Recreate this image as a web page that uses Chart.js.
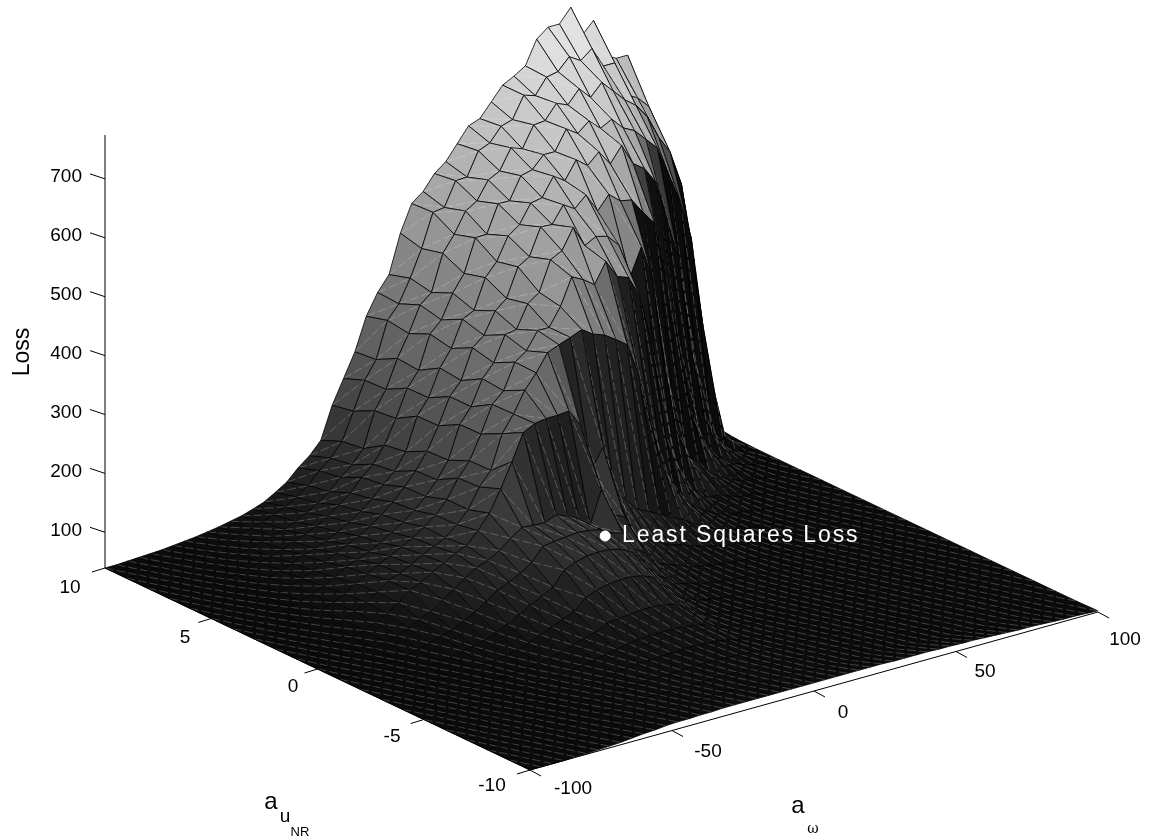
<!DOCTYPE html>
<html><head><meta charset="utf-8">
<style>html,body{margin:0;padding:0;background:#fff}#box{width:1158px;height:840px;position:relative}</style>
<script src="https://cdn.jsdelivr.net/npm/chart.js@4"></script></head>
<body><div id="box"><canvas id="c" width="1158" height="840"></canvas></div>
<script>
const aOmega=[-100,-96,-92,-88,-84,-80,-76,-72,-68,-64,-60,-56,-52,-48,-44,-40,-36,-32,-28,-24,-20,-16,-12,-8,-4,0,4,8,12,16,20,24,28,32,36,40,44,48,52,56,60,64,68,72,76,80,84,88,92,96,100];
const aU=[10,9,8,7,6,5,4,3,2,1,0,-1,-2,-3,-4,-5,-6,-7,-8,-9,-10];
const zTicks=[100,200,300,400,500,600,700];
const uTicks=[10,5,0,-5,-10];
const wTicks=[-100,-50,0,50,100];
const leastSquares={w:[20],u:[2.5],loss:[58]};
// one line per a_omega value, entries run along aU
const loss=[
[36,36,36,36,36,36,36,36,36,36,36,36,36,36,36,36,36,36,36,36,36],
[36,36,36,36,36,36,36,36,36,36,36,36,36,36,36,36,36,36,36,36,36],
[37,37,37,37,37,37,37,37,37,37,37,37,37,36,36,36,36,36,36,36,36],
[38,38,38,38,38,39,39,39,39,39,38,38,38,37,37,37,37,37,37,37,36],
[39,39,39,40,40,41,41,42,42,42,41,40,39,38,38,37,37,37,37,37,37],
[40,41,41,42,43,44,45,46,46,46,44,42,40,39,38,38,38,38,38,37,37],
[42,43,44,45,46,48,50,52,53,52,49,45,42,41,40,39,39,39,38,38,38],
[44,45,47,49,51,54,57,60,62,60,55,49,45,43,41,41,40,40,40,39,39],
[46,48,51,54,57,61,65,69,72,70,62,54,48,45,43,42,42,41,41,41,40],
[49,52,55,59,64,69,75,81,84,83,72,61,53,48,46,44,43,43,42,42,42],
[52,56,61,65,73,78,87,92,98,99,80,66,55,48,45,44,44,44,44,44,44],
[56,62,65,73,78,88,94,103,105,107,94,76,60,51,47,46,46,46,46,46,45],
[60,67,71,80,86,97,102,112,115,119,107,86,68,56,50,48,47,47,47,47,47],
[66,74,79,89,96,106,112,122,126,129,121,98,76,62,54,50,49,48,48,48,48],
[73,82,89,100,107,118,124,132,135,140,133,112,88,70,59,53,50,49,49,49,48],
[84,93,100,114,120,132,136,145,144,148,140,120,98,78,65,57,52,50,49,49,49],
[96,107,114,129,136,148,151,160,161,168,151,130,108,86,70,60,54,51,50,49,49],
[115,127,133,150,155,168,169,181,181,192,167,143,118,94,76,64,57,52,50,50,50],
[130,143,149,167,172,190,192,212,214,228,180,165,142,112,86,68,57,51,49,49,50],
[151,166,171,194,200,218,220,236,237,269,178,168,150,120,88,70,58,52,50,49,50],
[205,212,230,234,255,256,275,276,294,313,177,170,155,124,90,71,59,53,50,49,50],
[245,259,261,280,281,300,300,321,322,323,185,172,156,126,92,72,60,53,50,49,50],
[285,289,308,305,326,322,342,339,357,326,178,170,155,126,92,72,60,53,50,49,50],
[340,350,345,361,354,372,364,382,381,326,168,166,150,122,90,70,59,52,50,49,50],
[375,373,388,380,398,388,406,396,410,328,151,155,140,114,86,68,57,52,50,49,50],
[400,411,404,420,408,424,410,425,418,300,206,150,118,92,74,62,54,50,49,49,50],
[465,456,465,448,458,440,448,425,425,218,158,118,90,70,58,52,49,48,48,48,50],
[510,512,492,503,480,488,462,455,433,250,150,105,80,62,53,49,47,47,47,47,50],
[525,515,526,504,518,500,512,500,420,170,110,82,65,54,49,47,46,46,46,46,50],
[550,555,538,550,532,545,522,490,413,150,100,75,60,50,46,45,45,45,45,45,50],
[565,556,568,550,563,544,556,476,400,130,90,68,54,47,45,44,44,44,44,44,50],
[590,595,578,587,567,572,520,510,386,120,80,60,50,46,44,44,44,44,44,44,50],
[615,603,612,592,598,560,530,479,330,110,75,57,48,45,44,43,43,43,43,43,49],
[622,626,605,612,585,578,525,472,250,100,68,53,46,44,43,43,43,43,43,43,49],
[645,632,640,612,615,545,505,435,170,90,62,50,45,43,42,42,42,42,42,42,49],
[668,668,642,645,600,568,445,350,130,78,57,48,44,42,41,41,41,41,41,41,49],
[678,662,666,632,618,552,491,200,95,68,52,46,42,41,41,41,40,40,40,40,48],
[690,688,658,648,592,548,430,140,78,58,48,43,41,40,40,40,40,40,40,40,48],
[730,692,680,630,618,522,280,95,65,52,45,42,40,40,40,40,39,39,39,39,47],
[745,712,660,640,582,498,170,78,56,47,42,40,40,39,39,39,39,39,39,39,47],
[745,700,680,620,568,400,115,62,48,43,40,39,39,39,39,39,39,39,39,39,46],
[768,715,660,610,540,300,100,60,48,44,41,40,39,39,39,38,38,38,38,38,45],
[715,680,640,590,470,170,75,52,45,41,40,39,38,38,38,38,38,38,38,38,44],
[735,680,625,570,400,110,62,47,42,40,39,38,38,38,38,38,38,38,38,38,43],
[670,620,600,520,250,85,52,44,40,39,38,38,38,38,38,38,38,38,38,38,43],
[660,610,560,470,130,65,46,41,39,38,38,38,38,37,37,37,37,37,37,37,42],
[660,590,530,400,80,52,43,39,38,38,38,37,37,37,37,37,37,37,37,37,41],
[600,540,470,250,60,45,40,38,38,37,37,37,37,37,37,37,37,37,37,37,40],
[530,460,350,70,46,40,38,38,37,37,37,37,37,37,37,37,37,37,37,37,40],
[440,300,180,45,40,38,37,37,37,37,37,37,37,37,37,37,37,37,37,37,39],
[350,180,42,38,37,37,37,37,37,37,37,37,37,37,37,37,37,37,37,37,38]
];
// orthographic view of the 3-D box, in the pixel-sized x/y scales below
function project(w,u,z){
  const tw=(w+100)/200, tu=(u+10)/20;
  return {x:530+568*tw-425*tu, y:770-158*tw-202*tu-0.589*(z-36)};
}
function shade(zs,dropU,dropW,w){
  const mean=(zs[0]+zs[1]+zs[2]+zs[3])/4;
  const base=9+(mean-36)*0.315;
  const wallMin=0.42-0.30*Math.max(0,Math.min(1,(w-16)/48));
  const fU=Math.max(wallMin,1/(1+Math.pow(Math.max(0,-dropU)/140,4)));
  const fW=1/(1+Math.pow(Math.max(0,dropW)/80,2));
  const g=Math.max(11,Math.min(240,base*fU*fW));
  const v=Math.round(g);
  return `rgb(${v},${v},${v})`;
}
const datasets=[];
function line(pts,color,width){
  datasets.push({data:pts,showLine:true,borderColor:color,borderWidth:width,pointRadius:0,fill:false,tension:0});
}
// axes behind the surface
const o=project(-100,10,36);
line([o,{x:o.x,y:135}],'#000',1);
zTicks.forEach(v=>{const p=project(-100,10,v);line([{x:p.x,y:p.y+2},{x:p.x-15,y:p.y-3}],'#000',1);});
// surface, from the far corner to the near corner
for(let i=aOmega.length-2;i>=0;i--){
  for(let j=0;j<aU.length-1;j++){
    const idx=[[i,j],[i+1,j],[i+1,j+1],[i,j+1]];
    const pts=idx.map(([a,b])=>project(aOmega[a],aU[b],loss[a][b]));
    const zs=idx.map(([a,b])=>loss[a][b]);
    const dU=((zs[2]+zs[3])-(zs[0]+zs[1]))/2;
    const dW=((zs[0]+zs[3])-(zs[1]+zs[2]))/2;
    const col=shade(zs,dU,dW,aOmega[i]);
    datasets.push({data:[...pts,pts[0]],showLine:true,borderColor:'#000',borderWidth:0.8,backgroundColor:col,fill:'shape',pointRadius:0,tension:0,diagonal:true});
  }
}
const e1=project(-100,-10,36),e2=project(100,-10,36),e0=project(-100,10,36);
line([e1,e2],'#000',1);
line([e0,e1],'#000',1);
const TICK_U=[-13,4],TICK_W=[11,6];
uTicks.forEach(v=>{const p=project(-100,v,36);line([p,{x:p.x+TICK_U[0],y:p.y+TICK_U[1]}],'#000',1);});
wTicks.forEach(v=>{const p=project(v,-10,36);line([p,{x:p.x+TICK_W[0],y:p.y+TICK_W[1]}],'#000',1);});
const lsPt=project(leastSquares.w[0],leastSquares.u[0],leastSquares.loss[0]);
datasets.push({data:[lsPt],pointRadius:5,pointBackgroundColor:'#fff',pointBorderColor:'#fff',showLine:false});
datasets.reverse(); // Chart.js paints the last dataset first

const texts=[];
const font='"Liberation Sans", Arial, sans-serif';
zTicks.forEach(v=>{const p=project(-100,10,v);texts.push({t:String(v),x:p.x-23,y:p.y+0,al:'right',f:19});});
[[10,70,588],[5,185,638],[0,293,687],[-5,392,737],[-10,492,786]].forEach(a=>texts.push({t:String(a[0]),x:a[1],y:a[2],al:'center',f:19}));
[[-100,573,789],[-50,708,752],[0,843,713],[50,985,672],[100,1125,640]].forEach(a=>texts.push({t:String(a[0]),x:a[1],y:a[2],al:'center',f:19}));
texts.push({t:'a',x:271,y:802,al:'center',f:24},{t:'u',x:285,y:817,al:'center',f:19},{t:'NR',x:300,y:832,al:'center',f:13});
texts.push({t:'a',x:798,y:806,al:'center',f:24},{t:'ω',x:813,y:829,al:'center',f:14,ff:'"DejaVu Serif", serif'});
texts.push({t:'Loss',x:23,y:352,al:'center',f:23,rot:-Math.PI/2});
texts.push({t:'Least Squares Loss',x:622,y:536,al:'left',f:23,c:'#fff',sp:'1.9px'});

const deco={id:'deco',
  afterDatasetDraw(chart,args){
    const ds=chart.data.datasets[args.index];
    if(!ds.diagonal)return;
    const m=chart.getDatasetMeta(args.index).data,ctx=chart.ctx;
    ctx.save();ctx.strokeStyle='rgba(255,255,255,0.38)';ctx.lineWidth=0.6;ctx.setLineDash([9,3]);
    ctx.beginPath();ctx.moveTo(m[0].x,m[0].y);ctx.lineTo(m[2].x,m[2].y);ctx.stroke();ctx.restore();
  },
  afterDraw(chart){
    const ctx=chart.ctx,X=chart.scales.x,Y=chart.scales.y;
    texts.forEach(t=>{
      ctx.save();
      ctx.font=`${t.f}px ${t.ff||font}`;ctx.fillStyle=t.c||'#000';ctx.textAlign=t.al;ctx.textBaseline='middle';
      if(t.sp)ctx.letterSpacing=t.sp;
      ctx.translate(X.getPixelForValue(t.x),Y.getPixelForValue(t.y));
      if(t.rot)ctx.rotate(t.rot);
      ctx.fillText(t.t,0,0);ctx.restore();
    });
  }};
new Chart(document.getElementById('c'),{
  type:'scatter',
  data:{datasets},
  plugins:[deco],
  options:{responsive:false,animation:false,events:[],clip:false,
    layout:{padding:0,autoPadding:false},
    plugins:{legend:{display:false},tooltip:{enabled:false}},
    scales:{x:{type:'linear',min:0,max:1158,display:false},y:{type:'linear',min:0,max:840,reverse:true,display:false}}
  }});
</script></body></html>
